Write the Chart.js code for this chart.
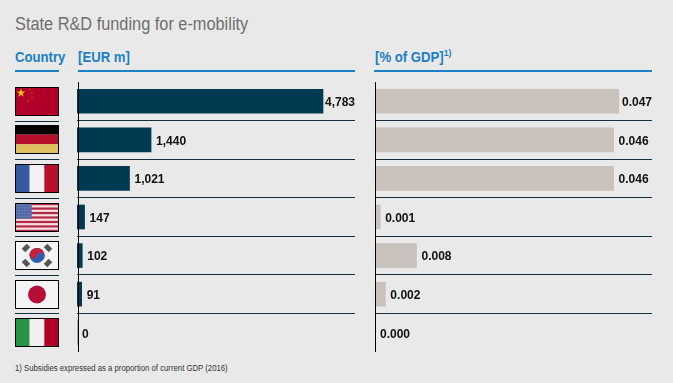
<!DOCTYPE html>
<html>
<head>
<meta charset="utf-8">
<script src="https://cdn.jsdelivr.net/npm/chart.js@4"></script>
<style>
  html, body { margin: 0; padding: 0; background: #e9e9e9; }
  body { position: relative; width: 673px; height: 383px; overflow: hidden; font-family: "Liberation Sans", Arial, sans-serif; }
  canvas { position: absolute; top: 0; }
  .txt { position: absolute; white-space: nowrap; transform-origin: left top; }
  .title { left: 15px; top: 14px; font-size: 18px; color: #6e6e6e; transform: scaleX(0.907); }
  .head { top: 49px; font-size: 14px; font-weight: bold; color: #1b80c6; transform: scaleX(0.94); }
  .head sup { font-size: 9px; line-height: 0; font-weight: bold; }
  .rule { position: absolute; top: 70px; height: 2px; background: #1b80c6; }
  .note { left: 15px; top: 363px; font-size: 8.3px; color: #333; transform: scaleX(0.934); }
</style>
</head>
<body>
<div class="txt title">State R&amp;D funding for e-mobility</div>
<div class="txt head" style="left:15px">Country</div>
<div class="txt head" style="left:78px">[EUR m]</div>
<div class="txt head" style="left:375px">[% of GDP]<sup>1)</sup></div>
<div class="rule" style="left:15px;width:44px"></div>
<div class="rule" style="left:78px;width:277px"></div>
<div class="rule" style="left:374px;width:278px"></div>
<div class="txt note">1) Subsidies expressed as a proportion of current GDP (2016)</div>
<canvas id="eurChart" width="360" height="383" style="left:0"></canvas>
<canvas id="gdpChart" width="313" height="383" style="left:360px"></canvas>

<script>
// chart data
var countries = ["China", "Germany", "France", "USA", "South Korea", "Japan", "Italy"];
var eurValues = [4783, 1440, 1021, 147, 102, 91, 0];
var gdpValues = [0.047, 0.046, 0.046, 0.001, 0.008, 0.002, 0.000];
var eurLabels = ["4,783", "1,440", "1,021", "147", "102", "91", "0"];
var gdpLabels = ["0.047", "0.046", "0.046", "0.001", "0.008", "0.002", "0.000"];

var rowLine = "#12323f";

function box(ctx, x, y, w, h, col) {
  ctx.fillStyle = col;
  ctx.fillRect(x, y, w, h);
}

function star(ctx, cx, cy, r, col) {
  ctx.fillStyle = col;
  ctx.beginPath();
  for (var i = 0; i < 10; i++) {
    var a = -Math.PI / 2 + i * Math.PI / 5;
    var rr = i % 2 ? r * 0.4 : r;
    ctx.lineTo(cx + Math.cos(a) * rr, cy + Math.sin(a) * rr);
  }
  ctx.fill();
}

// flags get a 44x29 box, x/y is the top left corner
var flags = {
  "China": function(ctx, x, y, w, h) {
    box(ctx, x, y, w, h, "#b0002a");
    star(ctx, x + 6, y + 6, 4.5, "#f5c518");
    [[15, 2.5], [17, 6], [17, 10.5], [13, 14]].forEach(function(p) {
      star(ctx, x + p[0], y + p[1], 1.5, "#cf3f2c");
    });
  },
  "Germany": function(ctx, x, y, w, h) {
    box(ctx, x, y, w, h / 3, "#000");
    box(ctx, x, y + h / 3, w, h / 3, "#b5102c");
    box(ctx, x, y + 2 * h / 3, w, h / 3, "#e0c060");
  },
  "France": function(ctx, x, y, w, h) {
    box(ctx, x, y, w / 3, h, "#36589f");
    box(ctx, x + w / 3, y, w / 3, h, "#f2f0f4");
    box(ctx, x + 2 * w / 3, y, w / 3, h, "#b5102c");
  },
  "USA": function(ctx, x, y, w, h) {
    box(ctx, x, y, w, h, "#f7dfe0");
    for (var i = 0; i < 7; i++) {
      box(ctx, x, y + i * 2 * h / 13, w, h / 13, "#b02a48");
    }
    box(ctx, x, y, w * 0.38, h * 7 / 13, "#4f69a8");
    ctx.fillStyle = "#8e9cc6";
    for (var r = 0; r < 5; r++) {
      for (var c = 0; c < 6; c++) {
        ctx.fillRect(x + 1.5 + c * 2.6, y + 1.5 + r * 2.8, 1, 1);
      }
    }
  },
  "South Korea": function(ctx, x, y, w, h) {
    box(ctx, x, y, w, h, "#f4f4f4");
    var cx = x + w / 2, cy = y + h / 2, r = 7.5;
    ctx.fillStyle = "#2f5fae";
    ctx.beginPath(); ctx.arc(cx, cy, r, 0, Math.PI * 2); ctx.fill();
    ctx.fillStyle = "#c8203c";
    ctx.beginPath(); ctx.arc(cx, cy, r, Math.PI * 1.1, Math.PI * 0.1); ctx.fill();
    ctx.beginPath(); ctx.arc(cx - r / 2, cy - 1, r / 2, 0, Math.PI * 2); ctx.fill();
    ctx.fillStyle = "#2f5fae";
    ctx.beginPath(); ctx.arc(cx + r / 2, cy + 1, r / 2, 0, Math.PI * 2); ctx.fill();
    ctx.fillStyle = "#555";
    [[-11, -7.5, -1], [11, -7.5, 1], [-11, 7.5, 1], [11, 7.5, -1]].forEach(function(p) {
      ctx.save();
      ctx.translate(cx + p[0], cy + p[1]);
      ctx.rotate(p[2] * Math.PI / 4);
      ctx.fillRect(-3.5, -2.5, 7, 5);
      ctx.restore();
    });
  },
  "Japan": function(ctx, x, y, w, h) {
    box(ctx, x, y, w, h, "#f4f4f4");
    ctx.fillStyle = "#b50f35";
    ctx.beginPath(); ctx.arc(x + w / 2, y + h / 2, 9, 0, Math.PI * 2); ctx.fill();
  },
  "Italy": function(ctx, x, y, w, h) {
    box(ctx, x, y, w / 3, h, "#2b9444");
    box(ctx, x + w / 3, y, w / 3, h, "#f0f0f0");
    box(ctx, x + 2 * w / 3, y, w / 3, h, "#b0002a");
  }
};

// value text next to each bar, row lines left of the plot, the black axis and the flags
var extras = {
  id: "extras",
  afterDatasetsDraw: function(chart, args, opts) {
    var ctx = chart.ctx, area = chart.chartArea, ys = chart.scales.y;
    var meta = chart.getDatasetMeta(0);
    ctx.save();
    ctx.font = "bold 12px 'Liberation Sans', Arial, sans-serif";
    ctx.fillStyle = "#111";
    ctx.textBaseline = "middle";
    meta.data.forEach(function(bar, i) {
      var w = ctx.measureText(opts.labels[i]).width;
      ctx.fillText(opts.labels[i], Math.min(bar.x + 5, area.right - w), bar.y + 1.5);
    });
    ctx.strokeStyle = "#000";
    ctx.lineWidth = 1;
    ctx.beginPath();
    ctx.moveTo(area.left + opts.axisShift + 0.5, area.top);
    ctx.lineTo(area.left + opts.axisShift + 0.5, area.bottom);
    ctx.stroke();
    if (opts.flags) {
      countries.forEach(function(name, i) {
        var cy = ys.getPixelForValue(i);
        var top = Math.round(cy - 14.5);
        flags[name](ctx, 15, top, 44, 29);
        ctx.strokeStyle = "#000";
        ctx.strokeRect(15.5, top + 0.5, 43, 28);
        if (i > 0) {
          var ly = Math.round(cy - (ys.getPixelForValue(1) - ys.getPixelForValue(0)) / 2) + 0.5;
          ctx.strokeStyle = rowLine;
          ctx.beginPath();
          ctx.moveTo(15, ly);
          ctx.lineTo(59, ly);
          ctx.stroke();
        }
      });
    }
    ctx.restore();
  }
};

function makeChart(id, values, labels, color, xMax, pad, axisShift, showFlags) {
  return new Chart(document.getElementById(id), {
    type: "bar",
    data: {
      labels: countries,
      datasets: [{ data: values, backgroundColor: color, barThickness: 24, borderWidth: 0 }]
    },
    plugins: [extras],
    options: {
      indexAxis: "y",
      responsive: false,
      animation: false,
      layout: { padding: pad },
      plugins: {
        legend: { display: false },
        title: { display: false },
        tooltip: { enabled: false },
        extras: { labels: labels, axisShift: axisShift, flags: showFlags }
      },
      scales: {
        x: { display: false, min: 0, max: xMax },
        y: {
          border: { display: false },
          ticks: { display: false },
          grid: {
            drawTicks: false,
            lineWidth: 1,
            color: function(c) {
              // the closing line of an offset grid comes without a tick index
              return (c.index === 0 || c.index === undefined) ? "transparent" : rowLine;
            }
          }
        }
      }
    }
  });
}

makeChart("eurChart", eurValues, eurLabels, "#003a52", 5405,
  { left: 77, right: 5, top: 82, bottom: 31 }, 1, true);
makeChart("gdpChart", gdpValues, gdpLabels, "#c9c1bb", 0.0534,
  { left: 15, right: 21, top: 82, bottom: 31 }, 0, false);
</script>
</body>
</html>
